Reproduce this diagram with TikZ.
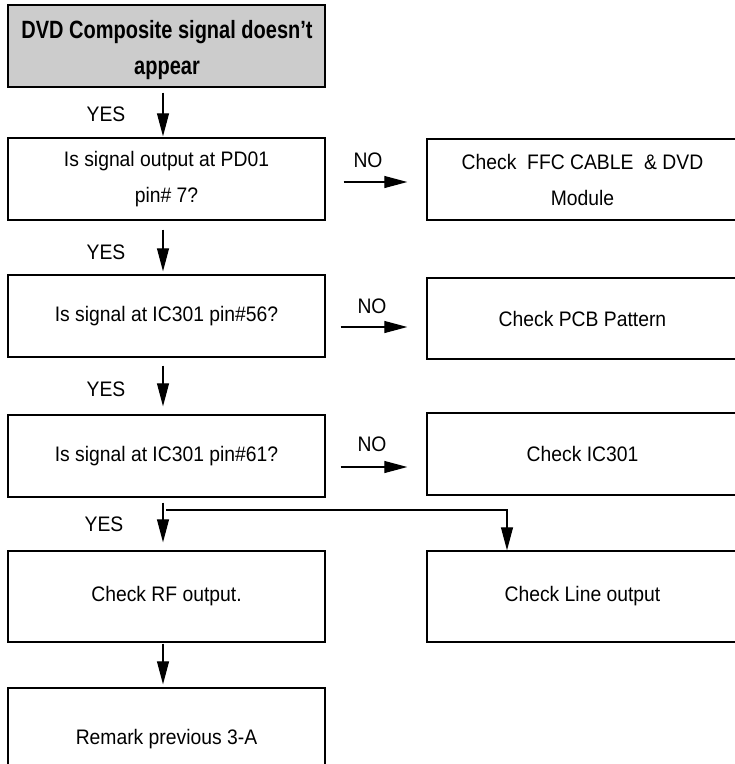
\documentclass[tikz,border=0pt]{standalone}
\usepackage{fontspec}
\setmainfont{Liberation Sans}
\newfontfamily\titlefont[FakeStretch=0.80]{Liberation Sans}
\newfontfamily\bodyfont[FakeStretch=0.92]{Liberation Sans}
\usetikzlibrary{arrows.meta}
\begin{document}
\begin{tikzpicture}[x=1pt,y=-1pt,
  box/.style={draw=black,line width=1.4pt,inner sep=0pt,align=center,
    font={\bodyfont\fontsize{21}{36}\selectfont}},
  lbl/.style={inner sep=0pt,font={\bodyfont\fontsize{21}{22}\selectfont}},
  arr/.style={line width=1.1pt,-{Triangle[length=23pt,width=12pt]}}]
\useasboundingbox (0,0) rectangle (735,764);
% boxes
\node[box,fill=black!20,minimum width=317pt,minimum height=82pt] (title) at (166.5,46) {};
\node[inner sep=0pt,align=center,
  font={\titlefont\bfseries\fontsize{25}{36}\selectfont}] (titletext) at (167,50)
  {DVD Composite signal doesn’t\\appear};
\node[box,minimum width=317pt,minimum height=82pt] (q1) at (166.5,179)
  {Is signal output at PD01\\pin\# 7?};
\node[box,minimum width=311pt,minimum height=81pt] (f1) at (582.5,179.5)
  {Check\ \ FFC CABLE\ \ \& DVD\\Module};
\node[box,minimum width=317pt,minimum height=82pt] (q2) at (166.5,316)
  {Is signal at IC301 pin\#56?};
\node[box,minimum width=311pt,minimum height=81pt] (f2) at (582.5,318.5)
  {Check PCB Pattern};
\node[box,minimum width=317pt,minimum height=82pt] (q3) at (166.5,456)
  {Is signal at IC301 pin\#61?};
\node[box,minimum width=311pt,minimum height=82pt] (f3) at (582.5,454)
  {Check IC301};
\node[box,minimum width=317pt,minimum height=91pt] (rf) at (166.5,596.5)
  {Check RF output.};
\node[box,minimum width=311pt,minimum height=91pt] (lo) at (582.5,596.5)
  {Check Line output};
\node[box,minimum width=317pt,minimum height=102pt] (rm) at (166.5,739)
  {Remark previous 3-A};
% helper coordinates
\coordinate (ax) at (163,0);
\coordinate (xb) at (507,0);
\coordinate (br) at (166,510);
% vertical arrows
\draw[arr,shorten <=5pt,shorten >=1pt] (title.south -| ax) -- (q1.north -| ax);
\draw[arr,shorten <=9pt,shorten >=3pt] (q1.south -| ax) -- (q2.north -| ax);
\draw[arr,shorten <=8pt,shorten >=8pt] (q2.south -| ax) -- (q3.north -| ax);
\draw[arr,shorten <=5pt,shorten >=8pt] (q3.south -| ax) -- (rf.north -| ax);
\draw[arr,shorten <=1pt,shorten >=3pt] (rf.south -| ax) -- (rm.north -| ax);
\draw[arr] (br) -| (lo.north -| xb);
% NO arrows
\draw[arr,shorten <=18pt,shorten >=19pt] ([yshift=-3pt]q1.east) -- ([yshift=-3pt]q1.east -| f1.west);
\draw[arr,shorten <=15pt,shorten >=19pt] ([yshift=-11pt]q2.east) -- ([yshift=-11pt]q2.east -| f2.west);
\draw[arr,shorten <=15pt,shorten >=19pt] ([yshift=-11pt]q3.east) -- ([yshift=-11pt]q3.east -| f3.west);
% labels
\node[lbl] (y1) at (106,114) {YES};
\node[lbl] (y2) at (106,252) {YES};
\node[lbl] (y3) at (106,389) {YES};
\node[lbl] (y4) at (104,524) {YES};
\node[lbl] (n1) at (368,160) {NO};
\node[lbl] (n2) at (372,306) {NO};
\node[lbl] (n3) at (372,444) {NO};
\end{tikzpicture}
\end{document}
